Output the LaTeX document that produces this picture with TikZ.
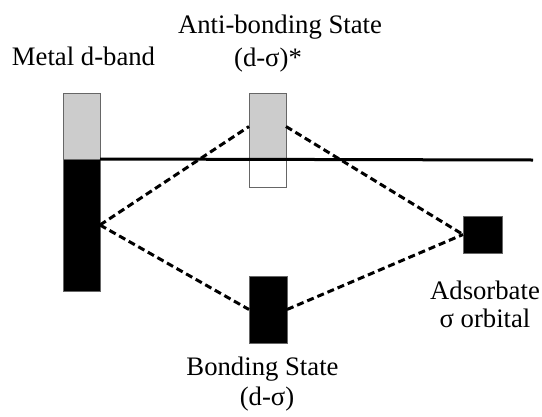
\documentclass[tikz,border=0pt]{standalone}
\usepackage{fontspec}
\setmainfont{Liberation Serif}
\begin{document}
\begin{tikzpicture}[x=1pt,y=-1pt,
  lvl/.style={draw=black!60, line width=0.8pt, inner sep=0pt, outer sep=0pt, anchor=north west},
  conn/.style={line width=3pt, dash pattern=on 7pt off 4pt},
  lbl/.style={font=\fontsize{26.7}{31}\selectfont, inner sep=0pt}]
\useasboundingbox (0,0) rectangle (542,416);
% metal d-band
\node[lvl, fill=black!20, minimum width=37pt, minimum height=66pt] (metalup) at (63,93) {};
\node[lvl, fill=black, minimum width=37pt, minimum height=132pt] (metallow) at (63,159) {};
% anti-bonding
\node[lvl, fill=black!20, minimum width=37pt, minimum height=67pt] (antiup) at (249,93) {};
\node[lvl, fill=white, minimum width=37pt, minimum height=27pt] (antilow) at (249,160) {};
% bonding
\node[lvl, fill=black, minimum width=38pt, minimum height=67pt] (bond) at (249,276) {};
% adsorbate
\node[lvl, fill=black, minimum width=39pt, minimum height=37pt] (ads) at (463,216) {};
% Fermi line
\coordinate (fermiend) at (533,160);
\draw[line width=3pt] (metallow.north east) -- (fermiend);
% connectors
\draw[conn] (metallow.east) -- (antiup.west);
\draw[conn] (metallow.east) -- (bond.west);
\draw[conn] (antiup.east) -- (ads.west);
\draw[conn] (bond.east) -- (ads.west);
% labels
\node[lbl] (tmetal) at (83.5,56) {Metal d-band};
\node[lbl] (tanti) at (280,27) {Anti-bonding State};
\node[lbl] (tanti2) at (268,60) {(d-σ)*};
\node[lbl] (tbond) at (262.5,369) {Bonding State};
\node[lbl] (tbond2) at (267,399) {(d-σ)};
\node[lbl] (tads) at (485,290) {Adsorbate};
\node[lbl] (tads2) at (485,318) {σ orbital};
\end{tikzpicture}
\end{document}
